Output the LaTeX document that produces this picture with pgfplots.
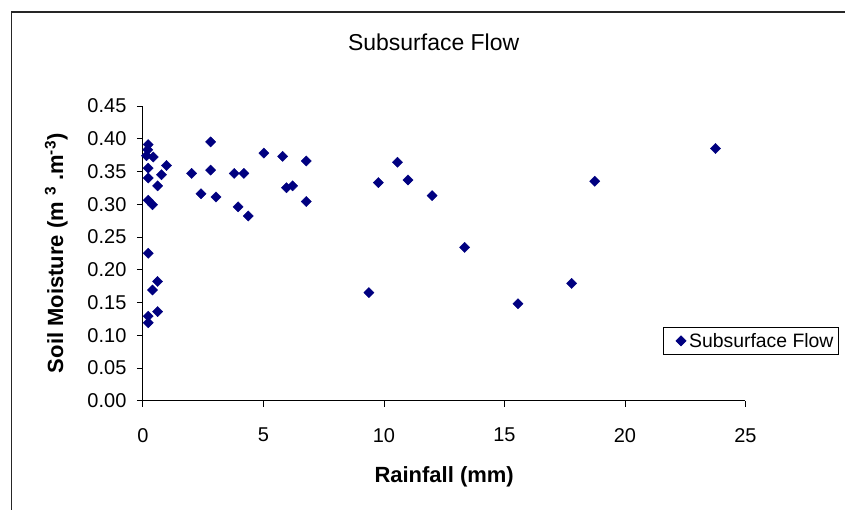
\documentclass[border=0pt]{standalone}
\usepackage{pgfplots}
\pgfplotsset{compat=1.18}
\usepackage{fontspec}
\setmainfont{Liberation Sans}
\definecolor{navy}{RGB}{0,0,128}
\begin{document}
\begin{tikzpicture}[x=1pt,y=1pt]
\path (0,0) rectangle (846,510);
\draw[line width=1.3pt, black!85] (11.5,0) -- (11.5,498) -- (846,498);
\node[font=\fontsize{23}{26}\selectfont] at (434,468) {Subsurface Flow};
\begin{axis}[
  at={(143pt,109pt)}, anchor=south west,
  scale only axis, width=603pt, height=295pt,
  xmin=0, xmax=25, ymin=0, ymax=0.45,
  axis lines*=left,
  axis line style={black, line width=0.8pt},
  xtick={0,5,10,15,20,25},
  ytick={0,0.05,0.10,0.15,0.20,0.25,0.30,0.35,0.40,0.45},
  yticklabel style={/pgf/number format/fixed, /pgf/number format/fixed zerofill, /pgf/number format/precision=2, xshift=-7pt},
  /pgf/number format/assume math mode=true,
  tick align=outside, major tick length=6pt,
  tick style={black, line width=0.8pt},
  ticklabel style={font=\fontsize{20}{24}\selectfont},
  xticklabel style={yshift=-18pt},
  xlabel={\textbf{Rainfall (mm)}},
  ylabel={\textbf{Soil Moisture (m \textsuperscript{3} .m\textsuperscript{-3})}},
  label style={font=\fontsize{22}{26}\selectfont},
  xlabel style={at={(axis description cs:0.5,0)}, anchor=north, yshift=-62pt},
  ylabel style={at={(axis description cs:-0.119,0.5)}, anchor=south, rotate=0},
  legend style={at={(0.864,0.203)}, anchor=west, draw=black, line width=0.6pt,
    font=\fontsize{19.4}{22}\selectfont, inner xsep=2pt, inner ysep=3pt,
    nodes={inner sep=3pt}},
  legend image code/.code={\path (0pt,0pt); \draw[#1] plot coordinates {(15pt,0pt)};},
  legend cell align=left,
]
\addplot[only marks, mark=square*, mark size=3.6pt, mark options={rotate=45, fill=navy, draw=navy}, navy] coordinates {
(0.22,0.391) (0.20,0.383) (0.15,0.374) (0.43,0.372) (0.22,0.355) (0.22,0.340)
(0.98,0.359) (0.77,0.345) (0.61,0.328) (0.22,0.306) (0.40,0.299)
(0.22,0.225) (0.61,0.182) (0.40,0.169) (0.61,0.136) (0.22,0.129) (0.22,0.119)
(2.02,0.347) (2.81,0.395) (2.81,0.352) (2.41,0.316) (3.03,0.311)
(3.79,0.347) (4.19,0.347) (3.95,0.296) (4.37,0.282)
(5.02,0.378) (5.80,0.373) (6.78,0.366) (5.96,0.325) (6.21,0.328) (6.78,0.304)
(10.56,0.364) (9.77,0.333) (11.00,0.337) (12.00,0.313) (13.35,0.234)
(9.38,0.165) (15.56,0.148) (17.79,0.179) (18.75,0.335) (23.76,0.385)
};
\addlegendentry{Subsurface Flow}
\end{axis}
\end{tikzpicture}
\end{document}
